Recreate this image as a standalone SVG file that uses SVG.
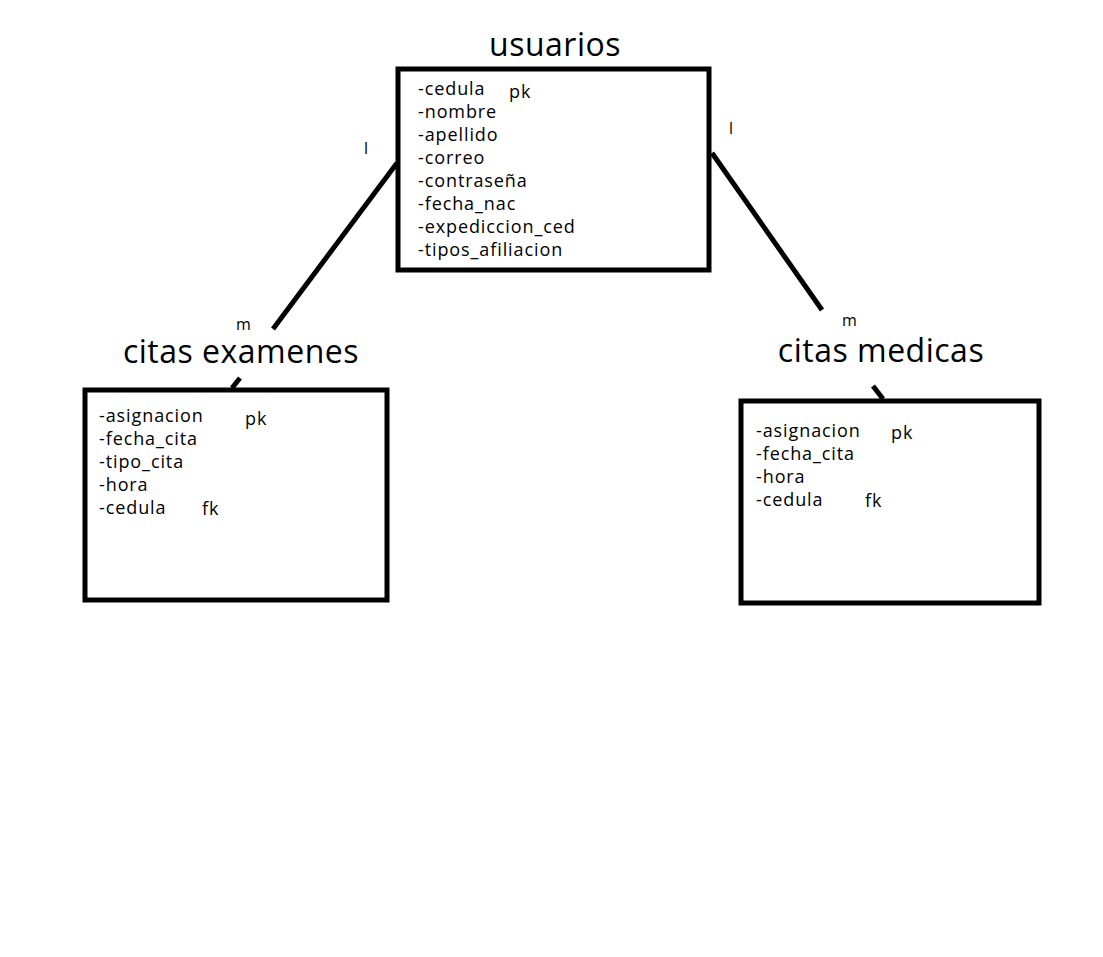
<svg xmlns="http://www.w3.org/2000/svg" width="1103" height="957" viewBox="0 0 1103 957">
<style>
.box{fill:none;stroke:#000;stroke-width:5}
.ln{stroke:#000;stroke-width:5;fill:none}
.title{font-family:"Open Sans",sans-serif;font-size:32px;fill:#000;text-anchor:middle;letter-spacing:0.5px}
.attr{font-family:"Open Sans",sans-serif;font-size:18px;fill:#000;letter-spacing:0.9px}
.card{font-family:"Open Sans",sans-serif;font-size:16px;fill:#000}
</style>
<rect width="1103" height="957" fill="#fff"/>
<g id="connectors">
<line class="ln" x1="397" y1="163" x2="273" y2="329"/>
<line class="ln" x1="240" y1="378" x2="232" y2="388"/>
<line class="ln" x1="712" y1="153" x2="822" y2="310"/>
<line class="ln" x1="873" y1="386" x2="883" y2="399"/>
<text class="card" x="364" y="154">l</text>
<text class="card" x="729" y="134">l</text>
<text class="card" x="236" y="330">m</text>
<text class="card" x="842" y="326">m</text>
</g>
<g id="usuarios">
<text class="title" x="555" y="56">usuarios</text>
<rect class="box" x="398" y="69" width="311" height="201"/>
<text class="attr" x="418" y="95">-cedula</text>
<text class="attr" x="509" y="98">pk</text>
<text class="attr" x="418" y="118">-nombre</text>
<text class="attr" x="418" y="141">-apellido</text>
<text class="attr" x="418" y="164">-correo</text>
<text class="attr" x="418" y="187">-contraseña</text>
<text class="attr" x="418" y="210">-fecha_nac</text>
<text class="attr" x="418" y="233">-expediccion_ced</text>
<text class="attr" x="418" y="256">-tipos_afiliacion</text>
</g>
<g id="citas_examenes">
<text class="title" x="241" y="363">citas examenes</text>
<rect class="box" x="85" y="390" width="302" height="210"/>
<text class="attr" x="99" y="422">-asignacion</text>
<text class="attr" x="245" y="425">pk</text>
<text class="attr" x="99" y="445">-fecha_cita</text>
<text class="attr" x="99" y="468">-tipo_cita</text>
<text class="attr" x="99" y="491">-hora</text>
<text class="attr" x="99" y="514">-cedula</text>
<text class="attr" x="202" y="515">fk</text>
</g>
<g id="citas_medicas">
<text class="title" x="881" y="362">citas medicas</text>
<rect class="box" x="741" y="401" width="298" height="202"/>
<text class="attr" x="756" y="437">-asignacion</text>
<text class="attr" x="891" y="439">pk</text>
<text class="attr" x="756" y="460">-fecha_cita</text>
<text class="attr" x="756" y="483">-hora</text>
<text class="attr" x="756" y="506">-cedula</text>
<text class="attr" x="865" y="507">fk</text>
</g>
</svg>
